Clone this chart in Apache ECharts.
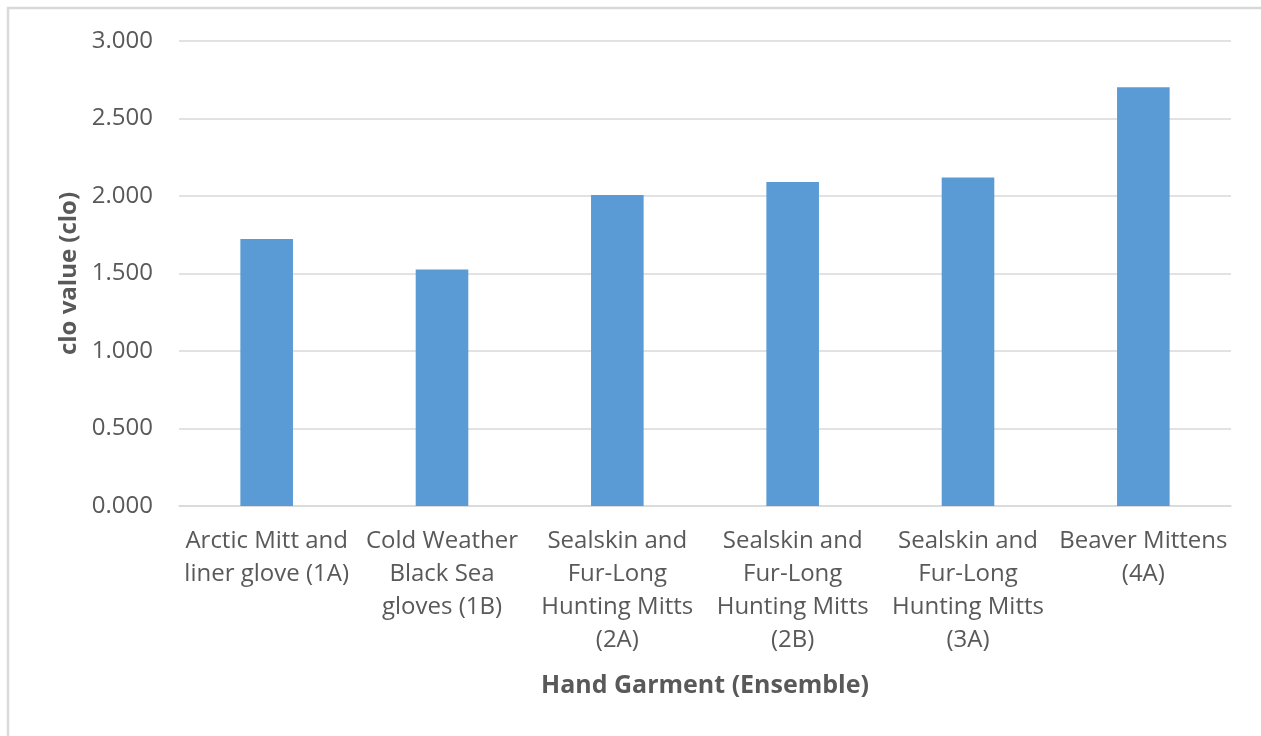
<!DOCTYPE html>
<html>
<head>
<meta charset="utf-8">
<title>clo value by hand garment</title>
<script src="https://cdn.jsdelivr.net/npm/echarts@6/dist/echarts.min.js"></script>
<style>
  html, body { margin: 0; padding: 0; background: #ffffff; }
  #chart { width: 1261px; height: 736px; }
</style>
</head>
<body>
<div id="chart"></div>
<script>
// Hand garment ensembles and their measured clo values
const categories = [
  'Arctic Mitt and\nliner glove (1A)',
  'Cold Weather\nBlack Sea\ngloves (1B)',
  'Sealskin and\nFur-Long\nHunting Mitts\n(2A)',
  'Sealskin and\nFur-Long\nHunting Mitts\n(2B)',
  'Sealskin and\nFur-Long\nHunting Mitts\n(3A)',
  'Beaver Mittens\n(4A)'
];
const cloValues = [1.722, 1.526, 2.006, 2.090, 2.120, 2.701];
const yTicks = [0, 0.5, 1.0, 1.5, 2.0, 2.5, 3.0];

const textColor = '#595959';
const fontFamily = '"Open Sans", "Liberation Sans", sans-serif';

const chart = echarts.init(document.getElementById('chart'), null, { renderer: 'canvas' });

chart.setOption({
  backgroundColor: '#ffffff',
  animation: false,
  graphic: [{
    type: 'rect',
    shape: { x: 8, y: 8, width: 1300, height: 800 },
    style: { fill: 'none', stroke: '#d9d9d9', lineWidth: 2.5 },
    silent: true
  }],
  grid: { left: 179, right: 30, top: 41, bottom: 230 },
  xAxis: {
    type: 'category',
    data: categories,
    name: 'Hand Garment (Ensemble)',
    nameLocation: 'middle',
    nameGap: 167,
    nameTextStyle: { color: textColor, fontSize: 25, fontWeight: 'bold', fontFamily: fontFamily },
    axisLine: { lineStyle: { color: '#d9d9d9', width: 1.5 } },
    axisTick: { show: false },
    axisLabel: {
      interval: 0,
      color: textColor,
      fontSize: 24,
      fontFamily: fontFamily,
      lineHeight: 33,
      margin: 19
    }
  },
  yAxis: {
    type: 'value',
    min: yTicks[0],
    max: yTicks[yTicks.length - 1],
    interval: yTicks[1] - yTicks[0],
    name: 'clo value (clo)',
    nameLocation: 'middle',
    nameGap: 98,
    nameTextStyle: { color: textColor, fontSize: 24, fontWeight: 'bold', fontFamily: fontFamily },
    axisLine: { show: false },
    axisTick: { show: false },
    splitLine: { lineStyle: { color: '#d9d9d9', width: 1.5 } },
    axisLabel: {
      color: textColor,
      fontSize: 24,
      fontFamily: fontFamily,
      margin: 26,
      formatter: v => v.toFixed(3)
    }
  },
  series: [{
    type: 'bar',
    data: cloValues,
    barWidth: '30%',
    itemStyle: { color: '#5b9bd5' }
  }]
});
</script>
</body>
</html>
